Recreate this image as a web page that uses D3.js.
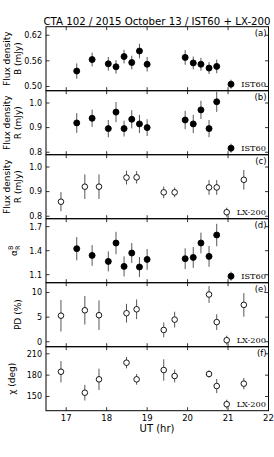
<!DOCTYPE html>
<html>
<head>
<meta charset="utf-8">
<script src="https://cdn.jsdelivr.net/npm/d3@7"></script>
<style>
  body { margin: 0; background: #fff; }
  text { font-family: 'DejaVu Sans', sans-serif; fill: #000; }
  .legend-text { font-family: 'DejaVu Serif', serif; }
</style>
</head>
<body>
<svg id="chart"></svg>
<script>
// IST60 epochs (UT hours)
const istTime = [17.26, 17.64, 18.04, 18.23, 18.43, 18.62, 18.81, 19.00, 19.94, 20.14, 20.33, 20.53, 20.72];
const fluxB = [0.536, 0.563, 0.553, 0.546, 0.570, 0.556, 0.583, 0.552, 0.568, 0.555, 0.552, 0.543, 0.547];
const fluxBErr = [0.018, 0.016, 0.016, 0.016, 0.016, 0.016, 0.017, 0.017, 0.017, 0.015, 0.015, 0.014, 0.016];
const fluxRIst = [0.919, 0.938, 0.896, 0.963, 0.896, 0.934, 0.915, 0.900, 0.931, 0.915, 0.972, 0.896, 1.005];
const fluxRIstErr = [0.040, 0.035, 0.035, 0.041, 0.032, 0.037, 0.037, 0.034, 0.037, 0.037, 0.037, 0.035, 0.041];
const alphaBR = [1.425, 1.341, 1.266, 1.496, 1.204, 1.371, 1.196, 1.291, 1.300, 1.316, 1.496, 1.329, 1.596];
const alphaBRErr = [0.145, 0.13, 0.125, 0.14, 0.125, 0.125, 0.125, 0.13, 0.13, 0.13, 0.13, 0.13, 0.14];

// LX-200 epochs (UT hours)
const lxTime = [16.87, 17.46, 17.81, 18.49, 18.74, 19.41, 19.68, 20.53, 20.72, 21.39];
const fluxRLx = [0.859, 0.920, 0.920, 0.957, 0.958, 0.897, 0.897, 0.917, 0.917, 0.948];
const fluxRLxErr = [0.039, 0.050, 0.050, 0.028, 0.025, 0.024, 0.020, 0.030, 0.030, 0.040];
const pd = [5.3, 6.4, 5.4, 5.8, 6.6, 2.4, 4.5, 9.6, 4.0, 7.5];
const pdErr = [3.2, 2.9, 3.0, 1.9, 2.0, 1.5, 1.6, 1.7, 1.6, 2.4];
const chi = [184.8, 155.3, 174.1, 197.5, 174.1, 187.2, 178.8, 181.6, 164.7, 168.0];
const chiErr = [15, 11, 15, 8, 7.5, 15, 9, 5, 10, 8];

// axis ticks
const xTicks = [17, 18, 19, 20, 21, 22];
const ticksA = [0.50, 0.56, 0.62];
const ticksB = [0.8, 0.9, 1.0];
const ticksC = [0.8, 0.9, 1.0];
const ticksD = [1.1, 1.4, 1.7];
const ticksE = [0, 5, 10];
const ticksF = [150, 180, 210];

const width = 274, height = 457;
const plotLeft = 46, plotRight = 268.5, plotTop = 26.7, panelH = 64;

const svg = d3.select('#chart').attr('width', width).attr('height', height);

const x = d3.scaleLinear().domain([16.5, 22]).range([plotLeft, plotRight]);

const panels = [
  { id: '(a)', t: istTime, v: fluxB, e: fluxBErr, dom: [0.49, 0.64], ticks: ticksA, fmt: '.2f', filled: true, legend: 'IST60', label: ['Flux density', 'B (mJy)'] },
  { id: '(b)', t: istTime, v: fluxRIst, e: fluxRIstErr, dom: [0.79, 1.05], ticks: ticksB, fmt: '.1f', filled: true, legend: 'IST60', label: ['Flux density', 'R (mJy)'] },
  { id: '(c)', t: lxTime, v: fluxRLx, e: fluxRLxErr, dom: [0.79, 1.05], ticks: ticksC, fmt: '.1f', filled: false, legend: 'LX-200', label: ['Flux density', 'R (mJy)'] },
  { id: '(d)', t: istTime, v: alphaBR, e: alphaBRErr, dom: [1.0, 1.8], ticks: ticksD, fmt: '.1f', filled: true, legend: 'IST60', label: 'alpha' },
  { id: '(e)', t: lxTime, v: pd, e: pdErr, dom: [-1, 12], ticks: ticksE, fmt: 'd', filled: false, legend: 'LX-200', label: ['PD (%)'] },
  { id: '(f)', t: lxTime, v: chi, e: chiErr, dom: [130, 220], ticks: ticksF, fmt: 'd', filled: false, legend: 'LX-200', label: ['\u03c7 (deg)'] }
];

// title
svg.append('text')
  .attr('x', 157)
  .attr('y', 25)
  .attr('text-anchor', 'middle')
  .style('font-size', '10.2px')
  .text('CTA 102 / 2015 October 13 / IST60 + LX-200');

panels.forEach(function (p, i) {
  const y0 = plotTop + i * panelH;
  const y = d3.scaleLinear().domain(p.dom).range([y0 + panelH, y0]);
  const g = svg.append('g');

  // ticks (inward) on all four sides
  const tickLen = 3.5;
  p.ticks.forEach(function (tv) {
    g.append('line').attr('x1', plotLeft).attr('x2', plotLeft + tickLen)
      .attr('y1', y(tv)).attr('y2', y(tv)).attr('stroke', '#000').attr('stroke-width', 0.8);
    g.append('line').attr('x1', plotRight).attr('x2', plotRight - tickLen)
      .attr('y1', y(tv)).attr('y2', y(tv)).attr('stroke', '#000').attr('stroke-width', 0.8);
    g.append('text')
      .attr('x', plotLeft - 4)
      .attr('y', y(tv))
      .attr('dy', '0.35em')
      .attr('text-anchor', 'end')
      .style('font-size', '8px')
      .text(d3.format(p.fmt)(tv));
  });
  xTicks.forEach(function (tv) {
    g.append('line').attr('x1', x(tv)).attr('x2', x(tv))
      .attr('y1', y0).attr('y2', y0 + tickLen).attr('stroke', '#000').attr('stroke-width', 0.8);
    g.append('line').attr('x1', x(tv)).attr('x2', x(tv))
      .attr('y1', y0 + panelH).attr('y2', y0 + panelH - tickLen).attr('stroke', '#000').attr('stroke-width', 0.8);
  });

  // frame
  g.append('rect')
    .attr('x', plotLeft).attr('y', y0)
    .attr('width', plotRight - plotLeft).attr('height', panelH)
    .attr('fill', 'none').attr('stroke', '#000').attr('stroke-width', 1);

  // panel id
  g.append('text')
    .attr('x', plotRight - 2)
    .attr('y', y0 + 9.5)
    .attr('text-anchor', 'end')
    .style('font-size', '8.5px')
    .text(p.id);

  // error bars
  const pts = p.t.map((t, k) => ({ t: t, v: p.v[k], e: p.e[k] }));
  g.selectAll('.err').data(pts).enter().append('line')
    .attr('x1', d => x(d.t)).attr('x2', d => x(d.t))
    .attr('y1', d => y(d.v - d.e)).attr('y2', d => y(d.v + d.e))
    .attr('stroke', '#444').attr('stroke-width', 0.9);

  // points
  g.selectAll('.pt').data(pts).enter().append('circle')
    .attr('cx', d => x(d.t)).attr('cy', d => y(d.v))
    .attr('r', p.filled ? 3 : 2.8)
    .attr('fill', p.filled ? '#000' : '#fff')
    .attr('stroke', '#000').attr('stroke-width', 0.9);

  // legend
  const lx = p.filled ? 231 : 226.7;
  const ly = y0 + panelH - 6.5;
  g.append('line').attr('x1', lx).attr('x2', lx).attr('y1', ly - 4.5).attr('y2', ly + 4.5)
    .attr('stroke', '#444').attr('stroke-width', 0.9);
  g.append('circle').attr('cx', lx).attr('cy', ly)
    .attr('r', p.filled ? 3 : 2.8)
    .attr('fill', p.filled ? '#000' : '#fff')
    .attr('stroke', '#000').attr('stroke-width', 0.9);
  g.append('text')
    .attr('class', 'legend-text')
    .attr('x', 266)
    .attr('y', ly)
    .attr('dy', '0.35em')
    .attr('text-anchor', 'end')
    .style('font-size', '8.2px')
    .text(p.legend);

  // y label
  const cy = y0 + panelH / 2;
  if (p.label === 'alpha') {
    const t = g.append('text')
      .attr('transform', 'translate(17,' + cy + ') rotate(-90)')
      .attr('text-anchor', 'middle')
      .style('font-size', '9px');
    t.append('tspan').text('\u03b1');
    t.append('tspan').attr('dy', 2.5).style('font-size', '6.5px').text('R');
    t.append('tspan').attr('dx', -4.5).attr('dy', -6.5).style('font-size', '6.5px').text('B');
  } else if (p.label.length === 2) {
    g.append('text')
      .attr('transform', 'translate(10,' + cy + ') rotate(-90)')
      .attr('text-anchor', 'middle')
      .style('font-size', '9px')
      .text(p.label[0]);
    g.append('text')
      .attr('transform', 'translate(20.5,' + cy + ') rotate(-90)')
      .attr('text-anchor', 'middle')
      .style('font-size', '9px')
      .text(p.label[1]);
  } else {
    g.append('text')
      .attr('transform', 'translate(' + (i === 5 ? 15 : 21) + ',' + cy + ') rotate(-90)')
      .attr('text-anchor', 'middle')
      .style('font-size', '9px')
      .text(p.label[0]);
  }
});

// x tick labels and axis title
const plotBottom = plotTop + panels.length * panelH;
svg.selectAll('.xt').data(xTicks).enter().append('text')
  .attr('x', d => x(d))
  .attr('y', plotBottom + 10)
  .attr('text-anchor', 'middle')
  .style('font-size', '8.5px')
  .text(d => d);

svg.append('text')
  .attr('x', 157)
  .attr('y', plotBottom + 21)
  .attr('text-anchor', 'middle')
  .style('font-size', '10px')
  .text('UT (hr)');
</script>
</body>
</html>
